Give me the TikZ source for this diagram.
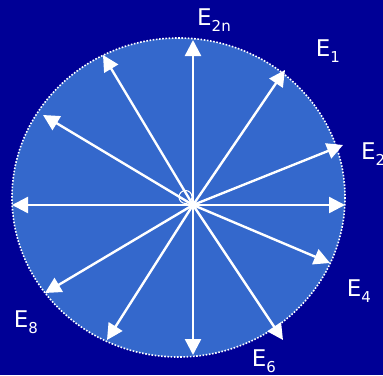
\documentclass[tikz,border=0pt]{standalone}
\usepackage{fontspec}
\setmainfont{DejaVu Sans}
\usetikzlibrary{arrows.meta}
\definecolor{bgblue}{RGB}{0,0,150}
\definecolor{discblue}{RGB}{52,104,204}
\newcommand\mysub[1]{\raisebox{-0.45ex}{\fontsize{15}{16}\selectfont #1}}
\tikzset{
  vec/.style={draw=white, line width=2.4pt, -{Triangle[length=16pt,width=16pt]}},
  lab/.style={text=white, font=\fontsize{23}{26}\selectfont, inner sep=0pt},
}
\begin{document}
\begin{tikzpicture}[x=1pt,y=-1pt]
\useasboundingbox (0,0) rectangle (383,375);
\fill[bgblue] (0,0) rectangle (383,375);
\fill[discblue] (178.5,197.5) ellipse [x radius=166.5, y radius=159.5];
\draw[white, line width=1.6pt, dash pattern=on 1.6pt off 1.6pt] (178.5,197.5) ellipse [x radius=166.5, y radius=159.5];
\coordinate (c) at (193,205);
\coordinate (t0) at (193,40);
\coordinate (t1) at (285,70);
\coordinate (t2) at (343,145);
\coordinate (t3) at (345,205);
\coordinate (t4) at (330,263);
\coordinate (t6) at (283,340);
\coordinate (t7) at (193,355);
\coordinate (t8) at (107,340);
\coordinate (t9) at (45,293);
\coordinate (t10) at (12,205);
\coordinate (t11) at (43,115);
\coordinate (t12) at (103,55);
\foreach \t in {t0,t1,t2,t3,t4,t6,t7,t8,t9,t10,t11,t12}
  \draw[vec] (c) -- (\t);
\draw[white, line width=1pt] (185.5,197) circle [radius=6.5];
\node[lab] (l2n) at (214,20) {E\mysub{2n}};
\node[lab] (l1) at (328,51) {E\mysub{1}};
\node[lab, anchor=west] (l2) at (361,154) {E\mysub{2}};
\node[lab] (l4) at (359,291) {E\mysub{4}};
\node[lab] (l6) at (264,361) {E\mysub{6}};
\node[lab] (l8) at (26,322) {E\mysub{8}};
\end{tikzpicture}
\end{document}
